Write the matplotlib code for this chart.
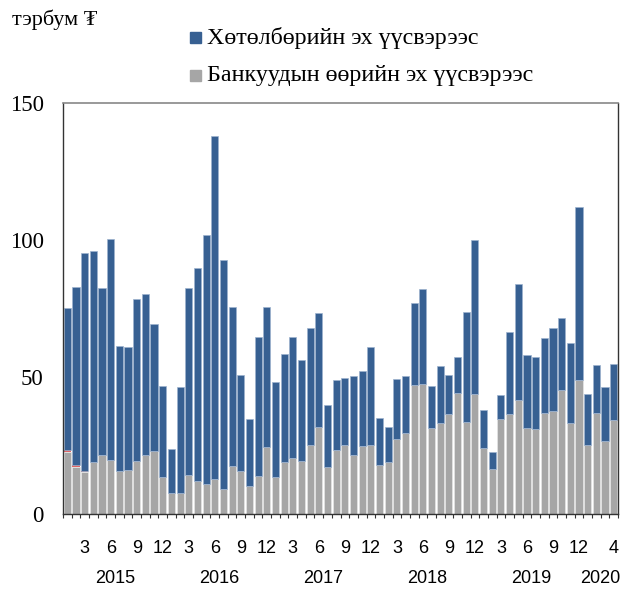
import numpy as np
import matplotlib.pyplot as plt
from matplotlib.patches import Rectangle

# Monthly figures, Jan 2015 – Apr 2020 (billion MNT)
bank_own = [22.7, 17.3, 15.4, 19.1, 21.5, 19.7, 15.8, 16.1, 19.5, 21.5, 23.1, 13.6,
            7.5, 7.8, 14.2, 12.0, 10.9, 12.9, 9.1, 17.5, 15.7, 10.3, 14.0, 24.6,
            13.4, 19.1, 20.4, 19.3, 25.2, 31.6, 17.2, 23.5, 25.2, 21.7, 24.7, 25.2,
            17.9, 19.0, 27.3, 29.6, 47.1, 47.4, 31.4, 33.3, 36.6, 44.2, 33.4, 43.9,
            24.1, 16.3, 34.8, 36.5, 41.6, 31.4, 31.0, 37.0, 37.6, 45.3, 33.1, 48.9,
            25.2, 37.0, 26.8, 34.3]
other = [0.6, 0.6, 0.4] + [0.0] * 61
total = [75.1, 83.0, 95.1, 96.1, 82.4, 100.2, 61.4, 60.8, 78.3, 80.3, 69.2, 46.8,
         23.7, 46.2, 82.4, 89.8, 101.9, 138.0, 92.8, 75.4, 50.7, 34.6, 64.7, 75.5,
         48.1, 58.5, 64.5, 56.2, 67.8, 73.4, 39.8, 49.0, 49.5, 50.2, 52.1, 60.8,
         34.9, 31.6, 49.4, 50.4, 76.9, 82.0, 46.8, 54.0, 50.8, 57.2, 73.8, 100.0,
         37.8, 22.5, 43.3, 66.4, 84.1, 58.1, 57.2, 64.3, 67.8, 71.4, 62.5, 111.9,
         43.9, 54.4, 46.5, 54.7]
years = ["2015", "2016", "2017", "2018", "2019", "2020"]

bank_own = np.array(bank_own)
other = np.array(other)
program = np.array(total) - bank_own - other

BLUE = "#376092"
GRAY = "#A6A6A6"
RED = "#E06666"

serif = ["Liberation Serif", "DejaVu Serif"]
sans = ["Liberation Sans", "DejaVu Sans"]

fig = plt.figure(figsize=(6.22, 5.92), dpi=100)
ax = fig.add_axes([63 / 622, 1 - 514 / 592, 555 / 622, 411 / 592])

n = len(bank_own)
x = np.arange(n)
w = 0.82
ax.bar(x, bank_own, width=w, color=GRAY, edgecolor="#E6E6E6", linewidth=0.5)
ax.bar(x, other, width=w, bottom=bank_own, color=RED, linewidth=0)
ax.bar(x, program, width=w, bottom=bank_own + other, color=BLUE,
       edgecolor="#9DB3CF", linewidth=0.5)

ax.set_xlim(-0.5, n - 0.5)
ax.set_ylim(0, 150)
ax.set_yticks([0, 50, 100, 150])
ax.set_yticklabels(["0", "50", "100", "150"], fontfamily=serif, fontsize=16.5)
ax.tick_params(axis="y", length=0, pad=14)

# month labels: every quarter-end of full years, then the last month shown
full_months = (n // 12) * 12
pos = [i for i in range(full_months) if (i % 12 + 1) % 3 == 0]
labs = [str(i % 12 + 1) for i in pos]
pos.append(n - 1)
labs.append(str((n - 1) % 12 + 1))
ax.set_xticks(pos)
ax.set_xticklabels(labs, fontfamily=sans, fontsize=13)
ax.tick_params(axis="x", length=0, pad=19)
ax.set_xticks(np.arange(-0.5, n, 1), minor=True)
ax.tick_params(axis="x", which="minor", length=3, width=0.8, color="#333333")

# year labels centred under each year's months
for k, yr in enumerate(years):
    start = k * 12
    end = min(start + 11, n - 1)
    ax.text((start + end) / 2, -0.158, yr, transform=ax.get_xaxis_transform(),
            ha="center", va="center", fontfamily=sans, fontsize=13)

for side in ["left", "bottom", "right"]:
    ax.spines[side].set_color("#333333")
    ax.spines[side].set_linewidth(1.0)
ax.spines["top"].set_color("#888888")
ax.spines["top"].set_linewidth(1.2)

# unit and legend
fig.text(12 / 622, 1 - 20 / 592, "тэрбум ₮", fontfamily=serif, fontsize=16,
         ha="left", va="center")
fig.patches.append(Rectangle((190 / 622, 1 - 43 / 592), 11 / 622, 11 / 592,
                             transform=fig.transFigure, color=BLUE))
fig.text(207 / 622, 1 - 38 / 592, "Хөтөлбөрийн эх үүсвэрээс", fontfamily=serif,
         fontsize=17.3, ha="left", va="center")
fig.patches.append(Rectangle((190 / 622, 1 - 81 / 592), 11 / 622, 11 / 592,
                             transform=fig.transFigure, color=GRAY))
fig.text(207 / 622, 1 - 76 / 592, "Банкуудын өөрийн эх үүсвэрээс", fontfamily=serif,
         fontsize=17.3, ha="left", va="center")

fig.savefig("out.png", dpi=100)
